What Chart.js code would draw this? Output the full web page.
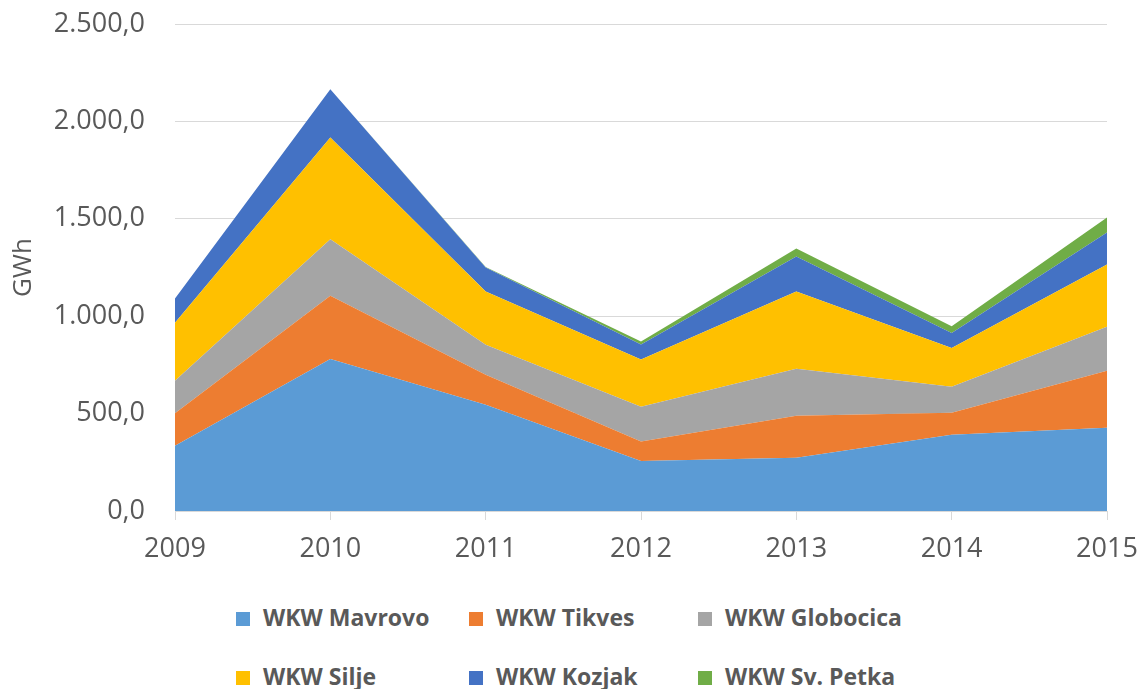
<!DOCTYPE html>
<html>
<head>
<meta charset="utf-8">
<script src="https://cdn.jsdelivr.net/npm/chart.js@4/dist/chart.umd.min.js"></script>
<style>
    html, body { margin: 0; padding: 0; background: #fff; }
    #wrap { position: relative; width: 1145px; height: 689px; }
    #chartBox { position: absolute; left: 0; top: 0; width: 1145px; height: 580px; }
    .leg { position: absolute; font-family: 'Open Sans', sans-serif; font-weight: bold; font-size: 23px; color: #595959; white-space: nowrap; line-height: 26px; }
    .leg span { display: inline-block; width: 14px; height: 14px; margin-right: 13px; vertical-align: 0px; }
</style>
</head>
<body>
<div id="wrap">
    <div id="chartBox"><canvas id="areaChart"></canvas></div>
    <div id="legend"></div>
</div>
<script>
// Data
const years = ['2009', '2010', '2011', '2012', '2013', '2014', '2015'];
const mavrovo = [335, 780, 545, 257, 273, 391, 427];
const tikves = [167, 325, 155, 100, 216, 113, 293];
const globocica = [167, 290, 154, 178, 241, 134, 226];
const silje = [297, 522, 273, 243, 397, 199, 319];
const kozjak = [125, 248, 123, 77, 180, 77, 165];
const svPetka = [0, 0, 2, 15, 41, 34, 77];

const seriesNames = ['WKW Mavrovo', 'WKW Tikves', 'WKW Globocica', 'WKW Silje', 'WKW Kozjak', 'WKW Sv. Petka'];
const seriesData = [mavrovo, tikves, globocica, silje, kozjak, svPetka];
const seriesColors = ['#5B9BD5', '#ED7D31', '#A5A5A5', '#FFC000', '#4472C4', '#70AD47'];

// Legend grid (column x, row y)
const legendCols = [236, 469, 698];
const legendRows = [604, 663];

const textColor = '#595959';
const gridColor = '#d9d9d9';

// 2500 -> "2.500,0"
function formatNum(v) {
    const parts = v.toFixed(1).split('.');
    const intPart = parts[0].replace(/\B(?=(\d{3})+(?!\d))/g, '.');
    return intPart + ',' + parts[1];
}

const datasets = seriesNames.map((name, i) => ({
    label: name,
    data: seriesData[i],
    backgroundColor: seriesColors[i],
    borderColor: seriesColors[i],
    borderWidth: 0,
    pointRadius: 0,
    tension: 0,
    fill: i === 0 ? 'origin' : '-1'
}));

const chart = new Chart(document.getElementById('areaChart'), {
    type: 'line',
    data: { labels: years, datasets: datasets },
    options: {
        responsive: true,
        maintainAspectRatio: false,
        animation: false,
        layout: { padding: { top: 24, right: 38, left: 0, bottom: 0 } },
        plugins: {
            legend: { display: false },
            tooltip: { enabled: false }
        },
        scales: {
            x: {
                offset: false,
                grid: { drawOnChartArea: false, drawTicks: true, tickLength: 9, color: gridColor },
                border: { display: false },
                ticks: { color: textColor, font: { family: 'Open Sans', size: 27 }, padding: 13, maxRotation: 0 },
                afterFit: (scale) => {
                    scale.height = 69;
                    scale.paddingRight = 0;
                    scale.paddingLeft = 0;
                }
            },
            y: {
                stacked: true,
                min: 0,
                max: 2500,
                grid: { color: gridColor, drawTicks: false },
                border: { display: false },
                ticks: {
                    stepSize: 500,
                    color: textColor,
                    font: { family: 'Open Sans', size: 27 },
                    padding: 30,
                    callback: (v) => formatNum(v)
                },
                title: {
                    display: true,
                    text: 'GWh',
                    color: textColor,
                    font: { family: 'Open Sans', size: 26 },
                    padding: { top: 8, bottom: 0 }
                },
                afterFit: (scale) => {
                    scale.width = 175;
                    scale.paddingTop = 0;
                    scale.paddingBottom = 0;
                }
            }
        }
    }
});

// HTML legend built from the chart datasets
const legendEl = document.getElementById('legend');
chart.data.datasets.forEach((ds, i) => {
    const item = document.createElement('div');
    item.className = 'leg';
    item.style.left = legendCols[i % 3] + 'px';
    item.style.top = legendRows[Math.floor(i / 3)] + 'px';
    item.innerHTML = `<span style="background:${ds.backgroundColor}"></span>${ds.label}`;
    legendEl.appendChild(item);
});
</script>
</body>
</html>
